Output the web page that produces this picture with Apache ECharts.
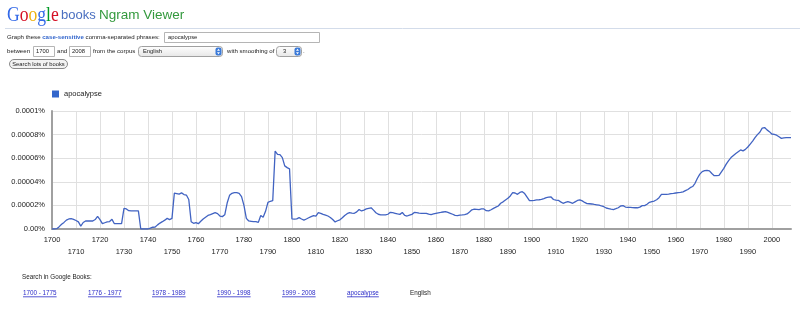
<!DOCTYPE html>
<html><head><meta charset="utf-8">
<script src="https://cdn.jsdelivr.net/npm/echarts@6/dist/echarts.min.js"></script>
<style>html,body{margin:0;padding:0;background:#fff}#c{width:800px;height:315px}</style>
</head><body><div id="c"></div>
<script>
// ---- data ----
const startYear = 1700;
const endYear = 2008;
const seriesName = 'apocalypse';
// yearly values, units of 0.000001 %
const values = [
  0, 0, 0.3, 2, 4, 5.6, 7.5, 8.5, 8.8, 8.2,
  7.2, 6, 2.5, 5.5, 6.8, 6.8, 6.8, 6.8, 8, 10.7,
  8, 4.5, 5.3, 6, 6.3, 8.2, 4.5, 4.5, 4.5, 4.5,
  17.5, 17, 15.5, 15.3, 15.3, 15.3, 15.3, 0, 0, 0,
  0, 0.8, 1.5, 1.7, 3.5, 5, 6.2, 7.5, 9, 8,
  9, 30.5, 30, 29.5, 30.6, 29.2, 28.8, 25, 6.2, 4.8,
  5.4, 4.5, 6.5, 8.5, 10, 11.5, 12.2, 13, 13.8, 13,
  11, 10.5, 12, 22, 28.5, 30.2, 30.8, 30.8, 30.2, 27.5,
  20, 9, 6.8, 6.5, 6.2, 6.2, 5.6, 11.5, 10, 15,
  22.5, 23.5, 24, 66, 63.3, 63, 60.5, 53.5, 52, 51,
  8.5, 8.4, 8.6, 9.6, 8.5, 7.6, 8.5, 9.5, 10.5, 11.3,
  11, 13.8, 13.3, 12.4, 11.8, 11, 9.8, 8, 6, 7,
  7.8, 9.5, 11.5, 13, 13.8, 13.5, 13.3, 14.5, 16.5, 15.3,
  16, 17, 17.5, 18, 16, 13.8, 12.5, 12, 11.9, 11.9,
  12.5, 14.1, 13.8, 13.3, 12.8, 12.4, 14, 11.5, 11, 11.8,
  12.4, 14, 13.8, 13.4, 13.3, 13.3, 13.3, 12.6, 12.2, 12.8,
  13.3, 13.7, 14, 14.4, 14.7, 14, 13.3, 12.5, 11.5, 11.4,
  11.8, 11.9, 12.2, 12.8, 14.5, 16.3, 16.8, 16.7, 16.5, 17,
  17, 15.5, 15.3, 16.3, 17.5, 18.5, 19.5, 21.8, 23, 24.6,
  26, 28, 30.8, 30.5, 29.4, 31, 31.6, 30, 27, 24,
  24, 24.2, 24.6, 24.8, 25.1, 25.8, 26.6, 27, 27.1, 25,
  24.4, 24.3, 23, 21.8, 22.5, 23.2, 22.5, 21.8, 23, 24.2,
  24.6, 23.8, 22.5, 21.5, 21.4, 21.2, 20.8, 20.5, 20.2, 19.5,
  18.9, 17.8, 17.3, 16.8, 16.5, 17.2, 18, 19.5, 19.8, 18.6,
  18.4, 18.4, 18.2, 18, 18, 18.5, 19.8, 19.8, 21, 22.6,
  23.2, 23.7, 24.8, 26.5, 29.3, 29.4, 29.4, 29.6, 30, 30.2,
  30.5, 30.8, 31, 31.5, 32.5, 33.5, 35, 36, 38.7, 43,
  46.5, 48.6, 49.4, 49.7, 49.3, 47, 45.2, 45.2, 45.5, 48.5,
  51.4, 55, 58, 60.5, 62.3, 64, 65.5, 67, 66.2, 67.5,
  69.5, 72, 74.5, 77.4, 80, 82, 85.5, 86, 84, 82.5,
  80.5, 80.2, 79.5, 78.2, 76.8, 77.3, 77.4, 77.4, 77.4
];
const yTickLabels = ['0.00%', '0.00002%', '0.00004%', '0.00006%', '0.00008%', '0.0001%'];
const linkLabels = ['1700 - 1775', '1776 - 1977', '1978 - 1989', '1990 - 1998', '1999 - 2008', 'apocalypse'];
const corpusLabel = 'English';

const years = [];
for (let y = startYear; y <= endYear; y++) years.push(String(y));

// ---- helpers ----
const FF = '"Liberation Sans", Arial, sans-serif';
const FS = 6.1;
const mctx = document.createElement('canvas').getContext('2d');
function textW(t, size) { mctx.font = size + 'px ' + FF; return mctx.measureText(t).width; }
function txt(x, y, t, size, fill, align) {
  return { type: 'text', x: x, y: y, silent: true,
    style: { text: t, fontSize: size, fontFamily: FF, fill: fill || '#222', verticalAlign: 'middle', align: align || 'left' } };
}
function box(x, y, w, h, r, fill, stroke) {
  return { type: 'rect', silent: true, shape: { x: x, y: y, width: w, height: h, r: r || 0 },
    style: { fill: fill, stroke: stroke, lineWidth: 1 } };
}
function arrows(x, y) {
  return [
    box(x, y, 6, 8, 2, '#3b7ad8', null),
    { type: 'polygon', silent: true, shape: { points: [[x + 1.5, y + 3.3], [x + 4.5, y + 3.3], [x + 3, y + 1.3]] }, style: { fill: '#fff' } },
    { type: 'polygon', silent: true, shape: { points: [[x + 1.5, y + 4.7], [x + 4.5, y + 4.7], [x + 3, y + 6.7]] }, style: { fill: '#fff' } }
  ];
}
const selGrad = { type: 'linear', x: 0, y: 0, x2: 0, y2: 1, colorStops: [{ offset: 0, color: '#ffffff' }, { offset: 1, color: '#e6e6e6' }] };
const SERIF = '"Liberation Serif", "DejaVu Serif", serif';

const graphic = [];
// logo
graphic.push({ type: 'text', x: 7, y: 15, scaleX: 0.8, silent: true,
  style: { text: '{b|G}{r|o}{y|o}{b|g}{g|l}{r|e}', fontSize: 22, fontFamily: SERIF, verticalAlign: 'middle',
    rich: { b: { fill: '#3369e8', fontSize: 22, fontFamily: SERIF }, r: { fill: '#d50f25', fontSize: 22, fontFamily: SERIF },
            y: { fill: '#eeb211', fontSize: 22, fontFamily: SERIF }, g: { fill: '#009925', fontSize: 22, fontFamily: SERIF } } } });
graphic.push(txt(61, 15.5, 'books', 13, '#4a6fc0'));
graphic.push(txt(99, 15.5, 'Ngram Viewer', 13.5, '#33993d'));
graphic.push({ type: 'line', silent: true, shape: { x1: 5, y1: 28.5, x2: 800, y2: 28.5 }, style: { stroke: '#d3dcea', lineWidth: 1 } });

// form line 1
graphic.push({ type: 'text', x: 7, y: 37.5, silent: true,
  style: { text: '{n|Graph these }{l|case-sensitive}{n| comma-separated phrases:}', verticalAlign: 'middle',
    rich: { n: { fontSize: FS, fontFamily: FF, fill: '#222' }, l: { fontSize: FS, fontFamily: FF, fill: '#3366cc', fontWeight: 'bold' } } } });
graphic.push(box(164.5, 32.5, 155, 10, 0, '#fff', '#b5b5b5'));
graphic.push(txt(168, 37.5, 'apocalypse', 5.8, '#222'));

// form line 2
const L2 = 51.5;
graphic.push(txt(7, L2, 'between', FS));
graphic.push(box(33.5, 46.5, 21, 10, 0, '#fff', '#b5b5b5'));
graphic.push(txt(36, L2, String(startYear), 5.8));
graphic.push(txt(57, L2, 'and', FS));
graphic.push(box(69.5, 46.5, 21, 10, 0, '#fff', '#b5b5b5'));
graphic.push(txt(72, L2, String(endYear), 5.8));
graphic.push(txt(93, L2, 'from the corpus', FS));
graphic.push(box(138.5, 46.5, 84, 10, 3, selGrad, '#a0a0a0'));
graphic.push(txt(143, L2, corpusLabel, 5.8));
graphic.push(...arrows(215.5, 47.5));
graphic.push(txt(227, L2, 'with smoothing of', FS));
graphic.push(box(276.5, 46.5, 25, 10, 3, selGrad, '#a0a0a0'));
graphic.push(txt(283, L2, '3', 5.8));
graphic.push(...arrows(294.5, 47.5));
graphic.push(txt(303, L2, '.', FS));

// button
graphic.push(box(9.5, 59.5, 58, 9, 4.5, '#f3f3f3', '#8a8a8a'));
graphic.push(txt(38.5, 64, 'Search lots of books', 5.8, '#222', 'center'));

// bottom links
graphic.push(txt(22, 277, 'Search in Google Books:', 6.3));
const linkX = [23, 88, 152, 217, 282, 347];
linkLabels.forEach(function (t, i) {
  graphic.push(txt(linkX[i], 293, t, 6.3, '#2b2bc8'));
  const w = textW(t, 6.3);
  graphic.push({ type: 'line', silent: true, shape: { x1: linkX[i], y1: 296.8, x2: linkX[i] + w, y2: 296.8 }, style: { stroke: '#2b2bc8', lineWidth: 0.8 } });
});
graphic.push(txt(410, 293, corpusLabel, 6.3, '#222'));

const chart = echarts.init(document.getElementById('c'), null, { renderer: 'canvas' });
chart.setOption({
  animation: false,
  backgroundColor: '#fff',
  textStyle: { fontFamily: FF },
  legend: {
    data: [seriesName], left: 52, top: 90, padding: 0, icon: 'rect', itemWidth: 7, itemHeight: 7,
    itemGap: 10, textStyle: { fontSize: 7.5, color: '#222', fontFamily: FF }, selectedMode: false
  },
  grid: { left: 52, right: 9, top: 111, bottom: 86, containLabel: false },
  xAxis: {
    type: 'category', data: years, boundaryGap: false,
    axisLine: { lineStyle: { color: '#a0a0a0', width: 2 } },
    axisTick: { show: false },
    axisLabel: {
      interval: function (i, v) { return (+v) % 10 === 0; },
      formatter: function (v) { return (+v) % 20 === 0 ? v : '\n' + v; },
      fontSize: 7.5, color: '#222', lineHeight: 12, margin: 5, fontFamily: FF
    },
    splitLine: { show: true, interval: function (i, v) { return (+v) % 10 === 0; }, lineStyle: { color: '#e0e0e0', width: 1 } }
  },
  yAxis: {
    type: 'value', min: 0, max: 100, interval: 20,
    axisLine: { show: true, lineStyle: { color: '#a0a0a0', width: 2 } },
    axisTick: { show: false },
    axisLabel: { formatter: function (v) { return yTickLabels[Math.round(v / 20)]; }, fontSize: 7.5, color: '#222', margin: 7, fontFamily: FF },
    splitLine: { lineStyle: { color: '#e0e0e0', width: 1 } }
  },
  series: [{
    name: seriesName, type: 'line', data: values, showSymbol: false, symbol: 'none',
    lineStyle: { color: '#4163c2', width: 1.3 }, itemStyle: { color: '#3366cc' }
  }],
  graphic: graphic
});
</script></body></html>
